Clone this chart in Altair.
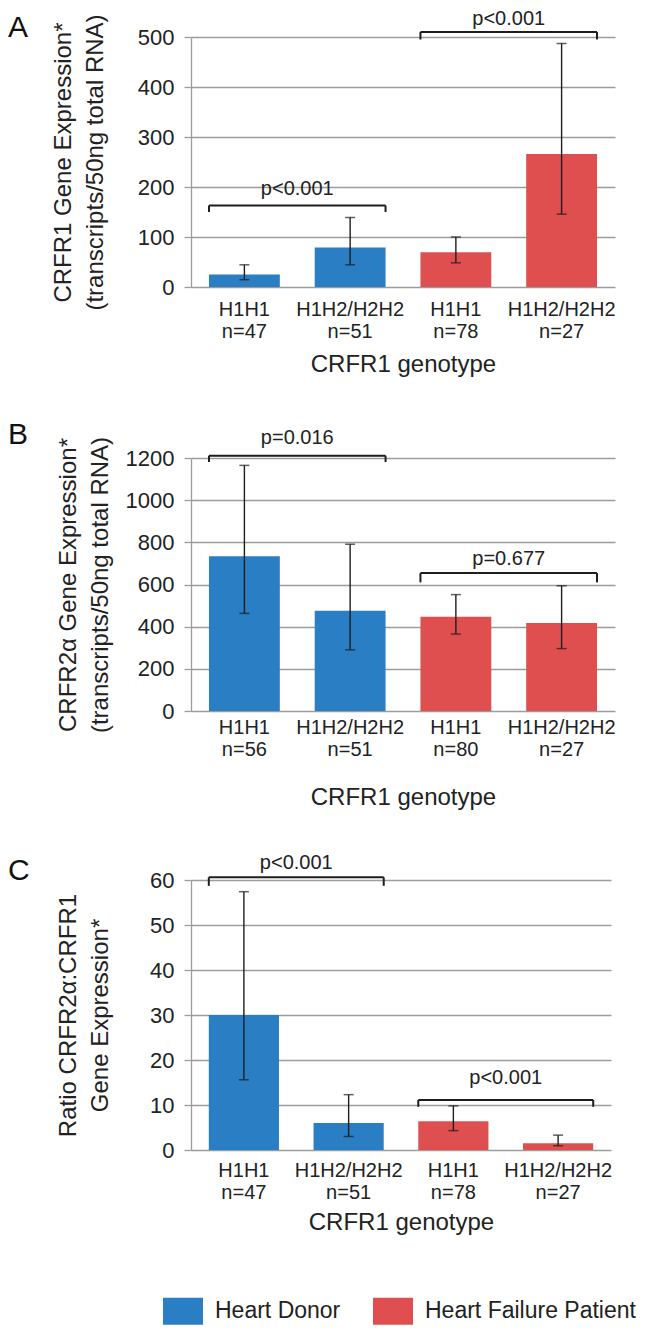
import altair as alt
import pandas as pd

# ---------------- data ----------------
genotypes = ["H1H1", "H1H2/H2H2", "H1H1", "H1H2/H2H2"]
groups = ["Heart Donor", "Heart Donor", "Heart Failure Patient", "Heart Failure Patient"]

a_n = [47, 51, 78, 27]
a_mean = [25, 79, 69.5, 266]
a_lo = [14.6, 44.4, 48.3, 145.7]
a_hi = [44.4, 139, 100, 487]

b_n = [56, 51, 80, 27]
b_mean = [734, 476, 447, 417]
b_lo = [463, 290, 365, 296]
b_hi = [1165, 791, 552, 594]

c_n = [47, 51, 78, 27]
c_mean = [30, 6.0, 6.4, 1.5]
c_lo = [15.6, 3.0, 4.3, 0.95]
c_hi = [57.4, 12.3, 9.8, 3.3]

# significance brackets: from bar index, to bar index, bracket level, leg end, label, label level
a_br_from = [0, 2]
a_br_to = [1, 3]
a_br_y = [163, 510]
a_br_leg = [150, 495]
a_br_label = ["p<0.001", "p<0.001"]
a_br_label_y = [197, 537]

b_br_from = [0, 2]
b_br_to = [1, 3]
b_br_y = [1211, 654]
b_br_leg = [1181, 610]
b_br_label = ["p=0.016", "p=0.677"]
b_br_label_y = [1293, 720]

c_br_from = [0, 2]
c_br_to = [1, 3]
c_br_y = [60.6, 11.1]
c_br_leg = [58.7, 9.6]
c_br_label = ["p<0.001", "p<0.001"]
c_br_label_y = [63.7, 15.9]

y_title_a = ["CRFR1 Gene Expression*", "(transcripts/50ng total RNA)"]
y_title_b = ["CRFR2\u03b1 Gene Expression*", "(transcripts/50ng total RNA)"]
y_title_c = ["Ratio CRFR2\u03b1:CRFR1", "Gene Expression*"]
x_title = "CRFR1 genotype"

# ---------------- style ----------------
FONT = "Liberation Sans"
BLUE = "#2a7ec3"
RED = "#e04f4f"
GRID = "#9c9c9c"
INK = "#1e1e1e"
PAD_INNER = 0.33
PAD_OUTER = 0.17

legend = alt.Legend(
    orient="none", legendX=-28, legendY=1254, direction="horizontal", title=None,
    symbolType="M-1,-0.675L1,-0.675L1,0.675L-1,0.675Z", symbolSize=1600,
    symbolStrokeWidth=0, symbolOpacity=1, labelFontSize=23, labelOffset=12,
    columnPadding=32, labelColor="#222222", labelFont=FONT, labelLimit=0,
)


def panel(letter, n, mean, lo, hi, bfrom, bto, by, bleg, blabel, blabel_y,
          ymax, ystep, ytitle, width, height, ytitle_pad, xlabel_pad, xtitle_pad, title_dy):
    keys = [f"{g}|n={k}" for g, k in zip(genotypes, n)]
    df = pd.DataFrame({"key": keys, "group": groups, "mean": mean, "lo": lo, "hi": hi})
    br = pd.DataFrame({
        "k1": [keys[i] for i in bfrom], "k2": [keys[i] for i in bto],
        "y": by, "leg": bleg, "label": blabel, "ly": blabel_y,
    })
    step = width / (len(keys) - PAD_INNER + 2 * PAD_OUTER)
    gap_half = step * PAD_INNER / 2
    xscale = alt.Scale(domain=keys, paddingInner=PAD_INNER, paddingOuter=PAD_OUTER)
    yscale = alt.Scale(domain=[0, ymax], nice=False)
    xaxis = alt.Axis(
        labelExpr="split(datum.value, '|')", labelFontSize=20, labelLineHeight=22,
        labelColor="#222222", labelAngle=0, labelPadding=xlabel_pad, domain=False,
        ticks=False, title=x_title, titleFontSize=24, titleFontWeight="normal",
        titleColor="#222222", titlePadding=xtitle_pad,
    )
    yaxis = alt.Axis(
        values=list(range(0, ymax + 1, ystep)), grid=True, gridColor=GRID, gridWidth=1.3,
        domainColor=GRID, domainWidth=1.3, tickColor=GRID, tickSize=7, tickWidth=1.3,
        labelFontSize=22, labelColor="#222222", labelPadding=10, format="d",
        title=ytitle, titleFontSize=24, titleFontWeight="normal", titleColor="#222222",
        titlePadding=ytitle_pad, titleLineHeight=32,
    )
    base = alt.Chart(df)
    bars = base.mark_bar().encode(
        x=alt.X("key:N", scale=xscale, axis=xaxis),
        y=alt.Y("mean:Q", scale=yscale, axis=yaxis),
        color=alt.Color("group:N", scale=alt.Scale(domain=["Heart Donor", "Heart Failure Patient"],
                                                    range=[BLUE, RED]), legend=legend),
    )
    err = base.mark_rule(color=INK, strokeWidth=1.4).encode(
        x=alt.X("key:N", scale=xscale), y="lo:Q", y2="hi:Q")
    cap_lo = base.mark_tick(color=INK, size=10, thickness=1.5).encode(
        x=alt.X("key:N", scale=xscale), y="lo:Q")
    cap_hi = base.mark_tick(color=INK, size=10, thickness=1.5).encode(
        x=alt.X("key:N", scale=xscale), y="hi:Q")
    bb = alt.Chart(br)
    hline = bb.mark_rule(color=INK, strokeWidth=2).encode(
        x=alt.X("k1:N", scale=xscale, bandPosition=0),
        x2=alt.X2("k2", bandPosition=1), y="y:Q")
    leg1 = bb.mark_rule(color=INK, strokeWidth=2).encode(
        x=alt.X("k1:N", scale=xscale, bandPosition=0), y="y:Q", y2="leg:Q")
    leg2 = bb.mark_rule(color=INK, strokeWidth=2).encode(
        x=alt.X("k2:N", scale=xscale, bandPosition=1), y="y:Q", y2="leg:Q")
    txt = bb.mark_text(fontSize=20, color="#222222", baseline="middle", font=FONT,
                       dx=gap_half).encode(
        x=alt.X("k1:N", scale=xscale, bandPosition=1), y="ly:Q", text="label:N")
    return alt.layer(bars, err, cap_lo, cap_hi, hline, leg1, leg2, txt).properties(
        width=width, height=height,
        title=alt.TitleParams(letter, anchor="start", frame="group", dx=-183, dy=title_dy,
                              offset=0, fontSize=30, fontWeight="normal", color="#111111",
                              font=FONT),
    )


pa = panel("A", a_n, a_mean, a_lo, a_hi, a_br_from, a_br_to, a_br_y, a_br_leg, a_br_label,
           a_br_label_y, 500, 100, y_title_a, 424, 250, 30, 12, 11, 34)
pb = panel("B", b_n, b_mean, b_lo, b_hi, b_br_from, b_br_to, b_br_y, b_br_leg, b_br_label,
           b_br_label_y, 1200, 200, y_title_b, 424, 253, 13, 6, 26, 22)
pc = panel("C", c_n, c_mean, c_lo, c_hi, c_br_from, c_br_to, c_br_y, c_br_leg, c_br_label,
           c_br_label_y, 60, 10, y_title_c, 420, 270, 37, 10, 8, 33)

chart = alt.vconcat(pa, pb, pc, spacing=44).properties(padding=0).configure(
    font=FONT
).configure_view(stroke=None).resolve_scale(x="independent", y="independent")

chart.save("out.html", embed_options={"renderer": "svg", "actions": False})
